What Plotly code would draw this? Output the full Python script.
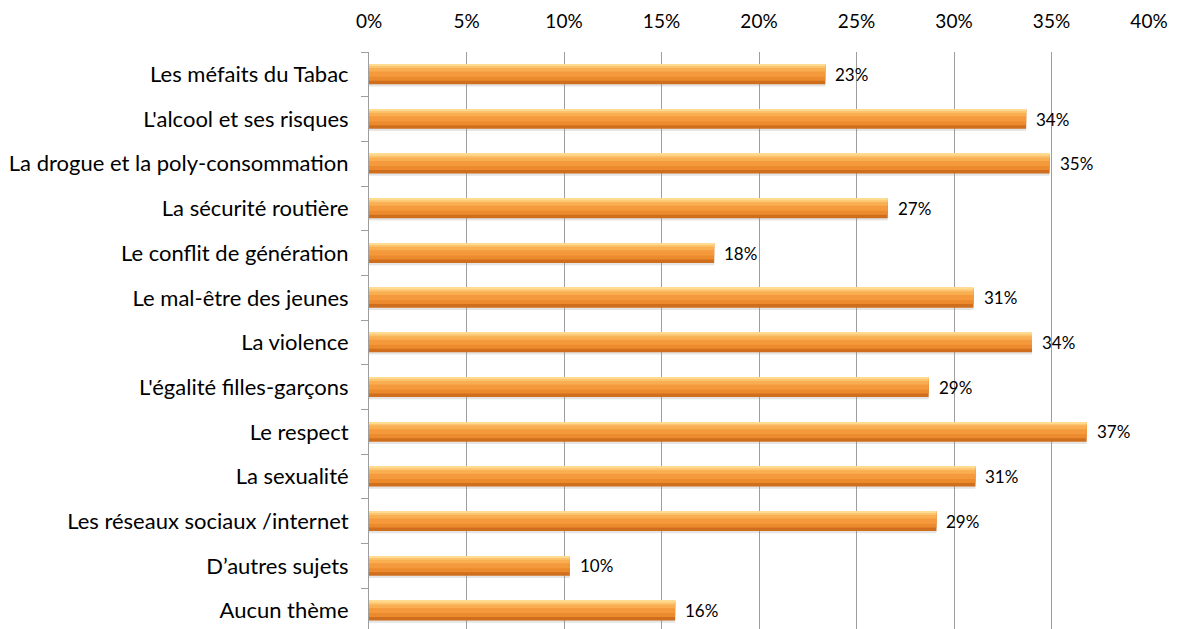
import plotly.graph_objects as go

categories = [
    "Les méfaits du Tabac",
    "L'alcool et ses risques",
    "La drogue et la poly-consommation",
    "La sécurité routière",
    "Le conflit de génération",
    "Le mal-être des jeunes",
    "La violence",
    "L'égalité filles-garçons",
    "Le respect",
    "La sexualité",
    "Les réseaux sociaux /internet",
    "D’autres sujets",
    "Aucun thème",
]
values = [0.234, 0.337, 0.349, 0.266, 0.177, 0.310, 0.340, 0.287, 0.368, 0.311, 0.291, 0.103, 0.157]
x_ticks = [0, 0.05, 0.10, 0.15, 0.20, 0.25, 0.30, 0.35, 0.40]

FONT = "Lato"
BAR_W = 0.44
TOP = -BAR_W / 2

fig = go.Figure()
layers = [
    (BAR_W + 0.04, "rgba(150,150,150,0.25)", TOP + 0.01),  # soft shadow
    (BAR_W, "#CF6F1E", TOP),
    (BAR_W * 0.82, "#EC8A2E", TOP),
    (BAR_W * 0.62, "#F59A3C", TOP),
    (BAR_W * 0.36, "#F9AE52", TOP),
    (BAR_W * 0.18, "#FCC46E", TOP),
    (BAR_W * 0.08, "#FFDB92", TOP),
]
for i, (w, c, off) in enumerate(layers):
    fig.add_trace(go.Bar(
        y=categories, x=values, orientation="h",
        width=w, offset=off,
        marker=dict(color=c, line=dict(width=0)),
        hoverinfo="skip",
        showlegend=False,
    ))

annotations = [
    dict(x=v, y=c, xref="x", yref="y", text=f"{round(v*100)}%",
         showarrow=False, xanchor="left", yanchor="middle", xshift=8,
         font=dict(family=FONT, size=17, color="#000000"))
    for c, v in zip(categories, values)
]

fig.update_layout(
    width=1176, height=621,
    margin=dict(l=361, r=35, t=44, b=0),
    barmode="overlay",
    plot_bgcolor="white", paper_bgcolor="white",
    font=dict(family=FONT, size=22, color="#000000"),
    annotations=annotations,
    xaxis=dict(
        side="top", range=[0, 0.4], tickvals=x_ticks, tickformat=".0%",
        showgrid=True, gridcolor="#9E9E9E", gridwidth=1,
        zeroline=False, showline=False, ticks="",
        ticklabelstandoff=19, automargin=False,
        tickfont=dict(family=FONT, size=19), fixedrange=True,
    ),
    yaxis=dict(
        categoryorder="array", categoryarray=categories,
        range=[12.41, -0.5], automargin=False,
        showline=True, linecolor="#9E9E9E", linewidth=1,
        ticks="outside", tickson="boundaries", ticklen=7, tickcolor="#9E9E9E",
        ticklabelstandoff=15,
        showgrid=False, tickfont=dict(family=FONT, size=22),
    ),
)

fig.write_html("out.html")
